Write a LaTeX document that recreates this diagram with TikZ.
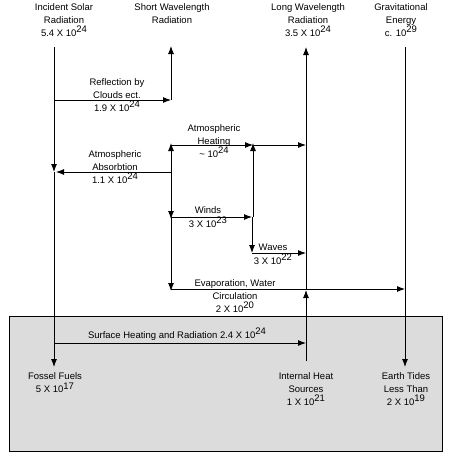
\documentclass[tikz,border=0pt]{standalone}
\usepackage{fontspec}
\setmainfont{Liberation Sans}
\usetikzlibrary{arrows.meta}
\newcommand\ex[1]{\raisebox{3.5pt}{#1}}
\begin{document}
\begin{tikzpicture}[x=1pt,y=-1pt,
  flow/.style={line width=0.9pt,-{Latex[length=8pt,width=6pt]}},
  wire/.style={line width=0.9pt},
  lbl/.style={inner sep=0pt,align=center,font=\fontsize{9.5}{13}\selectfont}]
\useasboundingbox (0,0) rectangle (462,455);
% earth box
\draw[line width=0.9pt,fill={rgb,255:red,220;green,220;blue,220}] (9,316) rectangle (442,451);

% top labels
\node[lbl] (solar) at (64,20) {Incident Solar\\Radiation\\5.4 X 10\ex{24}};
\node[lbl] (short) at (172,14) {Short Wavelength\\Radiation};
\node[lbl] (long) at (308,20) {Long Wavelength\\Radiation\\3.5 X 10\ex{24}};
\node[lbl] (grav) at (401,20) {Gravitational\\Energy\\c. 10\ex{29}};

% junction coordinates
\coordinate (s0) at (54,47);
\coordinate (sR) at (54,100);
\coordinate (sA) at (54,172);
\coordinate (sS) at (54,343);
\coordinate (sF) at (54,367);
\coordinate (wT) at (171,46);
\coordinate (wR) at (171,100);
\coordinate (mH) at (171,145);
\coordinate (mA) at (171,172);
\coordinate (mW) at (171,217);
\coordinate (mE) at (171,289);
\coordinate (jH) at (253,145);
\coordinate (jW) at (253,217);
\coordinate (kW) at (252,217);
\coordinate (kV) at (252,253);
\coordinate (lT) at (306,47);
\coordinate (lH) at (306,145);
\coordinate (lV) at (306,253);
\coordinate (lE) at (306,290);
\coordinate (lS) at (306,343);
\coordinate (lB) at (306,361);
\coordinate (gT) at (405,47);
\coordinate (gE) at (405,289);
\coordinate (gB) at (405,367);

% left column
\draw[flow] (s0) -- (sA);
\draw[flow] (sA) -- (sF);
% reflection
\draw[flow] (sR) -- (wR);
\draw[flow] (wR) -- (wT);
% absorption
\draw[flow] (mA) -- ([xshift=2pt]sA);
% middle column
\draw[flow] (mA) -- ([yshift=2pt]mH);
\draw[flow] (mA) -- ([yshift=-2pt]mW);
\draw[flow] (mW) -- ([yshift=-2pt]mE);
% atmospheric heating
\draw[flow] (mH) -- (jH);
\draw[flow] (jH) -- (lH);
% winds
\draw[flow] (mW) -- (kW);
\draw[flow] (jW) -- ([yshift=2pt]jH);
\draw[flow] (kW) -- (kV);
\draw[flow] (kV) -- (lV);
% evaporation
\draw[flow] (mE) -- (gE);
% long wavelength
\draw[flow] (lB) -- (lE);
\draw[flow] (lE) -- (lT);
% gravitational
\draw[flow] (gT) -- (gB);
% surface heating
\draw[flow] (sS) -- (lS);

% flow labels
\node[lbl] (refl) at (117,95) {Reflection by\\Clouds ect.\\1.9 X 10\ex{24}};
\node[lbl] (absb) at (115,167) {Atmospheric\\Absorbtion\\1.1 X 10\ex{24}};
\node[lbl] (heat) at (214,141) {Atmospheric\\Heating\\\textasciitilde\ 10\ex{24}};
\node[lbl] (winds) at (208,217) {Winds\\[1pt]3 X 10\ex{23}};
\node[lbl] (waves) at (273,254) {Waves\\[1pt]3 X 10\ex{22}};
\node[lbl] (evap) at (235,296) {Evaporation, Water\\Circulation\\2 X 10\ex{20}};
\node[lbl] (surf) at (177,334) {Surface Heating and Radiation 2.4 X 10\ex{24}};

% bottom labels
\node[lbl] (fossil) at (55,383) {Fossel Fuels\\5 X 10\ex{17}};
\node[lbl] (internal) at (306,389) {Internal Heat\\Sources\\1 X 10\ex{21}};
\node[lbl] (tides) at (406,389) {Earth Tides\\Less Than\\2 X 10\ex{19}};
\end{tikzpicture}
\end{document}
